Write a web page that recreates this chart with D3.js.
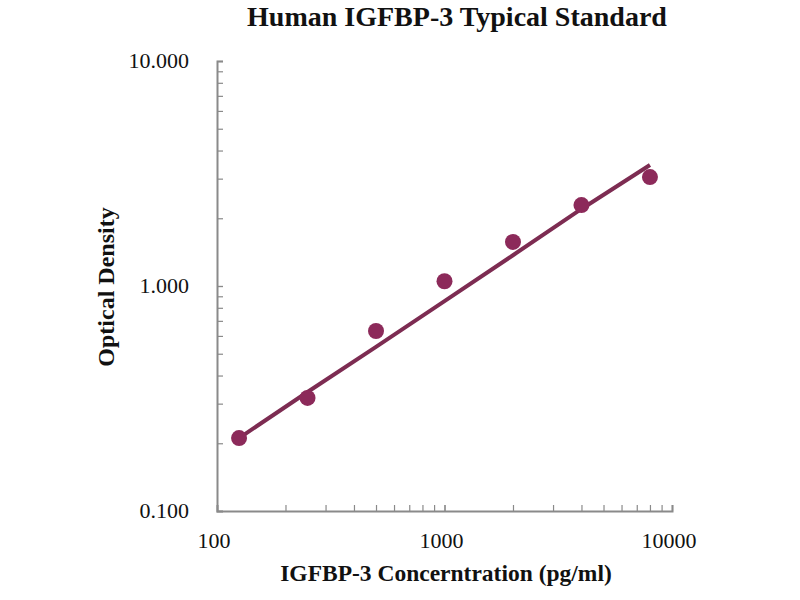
<!DOCTYPE html>
<html>
<head>
<meta charset="utf-8">
<script src="https://cdn.jsdelivr.net/npm/d3@7"></script>
<style>
  html, body { margin: 0; padding: 0; background: #fff; }
  svg { display: block; }
  text { font-family: "Liberation Serif", "DejaVu Serif", serif; fill: #111; }
</style>
</head>
<body>
<div id="chart"></div>
<script>
const conc = [125, 250, 500, 1000, 2000, 4000, 8000];
const od = [0.211, 0.318, 0.631, 1.05, 1.57, 2.29, 3.05];
// fitted curve at the same concentrations
const fitOd = [0.211, 0.338, 0.536, 0.857, 1.37, 2.20, 3.45];
const xTicks = [100, 1000, 10000];
const yTicks = [0.1, 1, 10];

const W = 800, H = 600;
const m = { left: 217, right: 128, top: 61, bottom: 89 };
const iw = W - m.left - m.right, ih = H - m.top - m.bottom;

const svg = d3.select("#chart").append("svg").attr("width", W).attr("height", H);
const g = svg.append("g").attr("transform", `translate(${m.left},${m.top})`);

const x = d3.scaleLog().domain([100, 10000]).range([0, iw]);
const y = d3.scaleLog().domain([0.1, 10]).range([ih, 0]);

const axisColor = "#8a8a8a";
const markColor = "#8c2a5a";

// minor ticks (2..9 per decade), pointing inward
const minor = (dom) => {
  const out = [];
  for (let e = Math.log10(dom[0]); e < Math.log10(dom[1]); e++)
    for (let k = 1; k <= 10; k++) out.push(k * Math.pow(10, e));
  return out;
};

const xAxis = g.append("g").attr("transform", `translate(0,${ih})`)
  .call(d3.axisBottom(x).tickValues(minor(x.domain())).tickSize(-6).tickFormat(""));
const yAxis = g.append("g")
  .call(d3.axisLeft(y).tickValues(minor(y.domain())).tickSize(-6).tickFormat(""));
[xAxis, yAxis].forEach((a) => {
  a.selectAll("path").attr("stroke", axisColor).attr("stroke-width", 2);
  a.selectAll("line").attr("stroke", axisColor).attr("stroke-width", 1.2);
});

// tick labels
g.append("g").selectAll("text").data(xTicks).join("text")
  .attr("x", (d) => x(d) - 3).attr("y", ih + 37)
  .attr("text-anchor", "middle").attr("font-size", 22)
  .text((d) => d);
g.append("g").selectAll("text").data(yTicks).join("text")
  .attr("x", -28).attr("y", (d) => y(d) + 7)
  .attr("text-anchor", "end").attr("font-size", 22)
  .text((d) => d.toFixed(3));

// fit line
g.append("path").datum(conc)
  .attr("fill", "none").attr("stroke", "#7d2c52").attr("stroke-width", 4)
  .attr("d", d3.line().x((d) => x(d)).y((d, i) => y(fitOd[i])));

// points
g.append("g").selectAll("circle").data(conc).join("circle")
  .attr("cx", (d) => x(d)).attr("cy", (d, i) => y(od[i]))
  .attr("r", 8).attr("fill", markColor);

// titles
svg.append("text").attr("x", 457).attr("y", 26)
  .attr("text-anchor", "middle").attr("font-size", 28).attr("font-weight", "bold")
  .text("Human IGFBP-3 Typical Standard");
svg.append("text").attr("x", 446).attr("y", 581)
  .attr("text-anchor", "middle").attr("font-size", 23.5).attr("font-weight", "bold")
  .text("IGFBP-3 Concerntration (pg/ml)");
svg.append("text").attr("transform", "translate(114,287) rotate(-90)")
  .attr("text-anchor", "middle").attr("font-size", 24).attr("font-weight", "bold")
  .text("Optical Density");
</script>
</body>
</html>
